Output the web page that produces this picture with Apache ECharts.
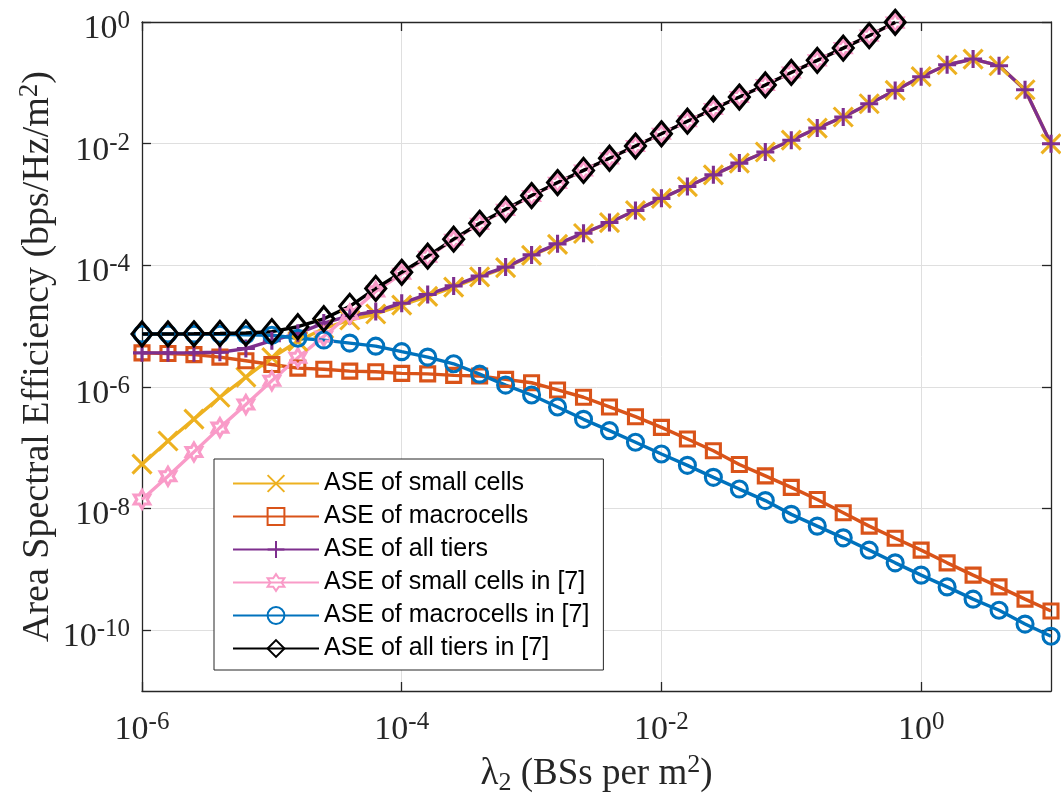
<!DOCTYPE html>
<html>
<head>
<meta charset="utf-8">
<script src="https://cdn.jsdelivr.net/npm/echarts@6/dist/echarts.min.js"></script>
<style>
html, body { margin: 0; padding: 0; background: #ffffff; }
#chart { width: 1061px; height: 812px; }
</style>
</head>
<body>
<div id="chart"></div>
<script>
// Small-cell BS density lambda_2 (BSs per m^2), five samples per decade
const lambda2 = [
  1e-6, 1.585e-6, 2.512e-6, 3.981e-6, 6.310e-6,
  1e-5, 1.585e-5, 2.512e-5, 3.981e-5, 6.310e-5,
  1e-4, 1.585e-4, 2.512e-4, 3.981e-4, 6.310e-4,
  1e-3, 1.585e-3, 2.512e-3, 3.981e-3, 6.310e-3,
  1e-2, 1.585e-2, 2.512e-2, 3.981e-2, 6.310e-2,
  1e-1, 1.585e-1, 2.512e-1, 3.981e-1, 6.310e-1,
  1, 1.585, 2.512, 3.981, 6.310, 10
];

// Area spectral efficiency (bps/Hz/m^2)
const aseSmall = [
  5.37e-8, 1.29e-7, 2.95e-7, 6.76e-7, 1.45e-6,
  3.02e-6, 5.62e-6, 9.12e-6, 1.26e-5, 1.58e-5,
  2.21e-5, 3.09e-5, 4.37e-5, 6.46e-5, 9.12e-5,
  1.45e-4, 2.21e-4, 3.33e-4, 5.01e-4, 7.94e-4,
  1.26e-3, 1.97e-3, 3.07e-3, 4.79e-3, 7.29e-3,
  1.14e-2, 1.80e-2, 2.74e-2, 4.53e-2, 7.50e-2,
  0.126, 0.198, 0.246, 0.191, 7.69e-2, 9.93e-3
];
const aseMacro = [
  3.63e-6, 3.55e-6, 3.39e-6, 3.09e-6, 2.69e-6,
  2.34e-6, 2.04e-6, 1.95e-6, 1.82e-6, 1.78e-6,
  1.67e-6, 1.64e-6, 1.55e-6, 1.51e-6, 1.33e-6,
  1.17e-6, 8.91e-7, 6.76e-7, 4.68e-7, 3.24e-7,
  2.16e-7, 1.39e-7, 8.91e-8, 5.31e-8, 3.44e-8,
  2.23e-8, 1.41e-8, 8.51e-9, 5.14e-9, 3.24e-9,
  2.07e-9, 1.28e-9, 8.04e-10, 5.15e-10, 3.24e-10, 2.07e-10
];
const aseAll = [
  3.63e-6, 3.63e-6, 3.64e-6, 3.72e-6, 4.27e-6,
  5.75e-6, 7.59e-6, 1.12e-5, 1.48e-5, 1.74e-5,
  2.38e-5, 3.31e-5, 4.58e-5, 6.68e-5, 9.33e-5,
  1.48e-4, 2.25e-4, 3.37e-4, 5.05e-4, 7.94e-4,
  1.26e-3, 1.97e-3, 3.07e-3, 4.79e-3, 7.29e-3,
  1.14e-2, 1.80e-2, 2.74e-2, 4.53e-2, 7.50e-2,
  0.126, 0.198, 0.246, 0.191, 7.69e-2, 9.93e-3
];
const aseSmallRef = [
  1.41e-8, 3.39e-8, 8.51e-8, 2.14e-7, 5.13e-7,
  1.26e-6, 3.02e-6, 6.76e-6, 1.58e-5, 3.72e-5,
  7.24e-5, 1.38e-4, 2.63e-4, 4.79e-4, 8.13e-4,
  1.38e-3, 2.26e-3, 3.61e-3, 5.73e-3, 9.12e-3,
  1.45e-2, 2.34e-2, 3.72e-2, 5.83e-2, 9.23e-2,
  0.148, 0.234, 0.372, 0.596, 0.977
];
const aseMacroRef = [
  7.40e-6, 7.40e-6, 7.38e-6, 7.34e-6, 7.20e-6,
  7.08e-6, 6.31e-6, 5.89e-6, 5.25e-6, 4.68e-6,
  3.80e-6, 3.09e-6, 2.40e-6, 1.62e-6, 1.07e-6,
  7.36e-7, 4.68e-7, 2.93e-7, 1.91e-7, 1.23e-7,
  7.87e-8, 5.13e-8, 3.26e-8, 2.09e-8, 1.35e-8,
  8.02e-9, 5.14e-9, 3.30e-9, 2.07e-9, 1.28e-9,
  8.04e-10, 5.15e-10, 3.24e-10, 2.13e-10, 1.26e-10, 7.94e-11
];
const aseAllRef = [
  7.41e-6, 7.43e-6, 7.47e-6, 7.55e-6, 7.70e-6,
  8.10e-6, 9.77e-6, 1.32e-5, 2.11e-5, 4.17e-5,
  7.67e-5, 1.41e-4, 2.69e-4, 4.90e-4, 8.32e-4,
  1.40e-3, 2.29e-3, 3.63e-3, 5.75e-3, 9.12e-3,
  1.45e-2, 2.34e-2, 3.72e-2, 5.83e-2, 9.23e-2,
  0.148, 0.234, 0.372, 0.596, 0.988
];

const seriesNames = [
  'ASE of small cells',
  'ASE of macrocells',
  'ASE of all tiers',
  'ASE of small cells in [7]',
  'ASE of macrocells in [7]',
  'ASE of all tiers in [7]'
];

// Labelled decades on each axis
const xTicks = [1e-6, 1e-4, 1e-2, 1];
const yTicks = [1e-10, 1e-8, 1e-6, 1e-4, 1e-2, 1];

const SERIF = "'Liberation Serif', 'Times New Roman', serif";
const SANS = "'Liberation Sans', Arial, Helvetica, sans-serif";
const AXIS_COLOR = '#262626';
const GRID_COLOR = '#dfdfdf';

const HEXAGRAM = 'path://M50,0L35.57,25L6.7,25L21.13,50L6.7,75L35.57,75L50,100L64.43,75L93.3,75L78.87,50L93.3,25L64.43,25Z';
const CROSS = 'path://M0,0L10,10M10,0L0,10';
const PLUS = 'path://M5,0L5,10M0,5L10,5';

function pairs(ys) {
  return ys.map((y, i) => [lambda2[i], y]);
}

function powerLabel(v) {
  const e = Math.round(Math.log10(v));
  return '{b|10}{s|' + e + '}';
}

const tickRich = {
  b: { fontFamily: SERIF, fontSize: 34, lineHeight: 40, color: AXIS_COLOR },
  s: { fontFamily: SERIF, fontSize: 25, lineHeight: 20, verticalAlign: 'top', color: AXIS_COLOR }
};

function lineSeries(name, ys, color, symbol, size) {
  return {
    name: name,
    type: 'line',
    data: pairs(ys),
    symbol: symbol,
    symbolSize: size,
    symbolKeepAspect: true,
    showSymbol: true,
    clip: true,
    lineStyle: { color: color, width: 3.4 },
    itemStyle: { color: 'rgba(0,0,0,0)', borderColor: color, borderWidth: 3.1 },
    emphasis: { disabled: true }
  };
}

const chart = echarts.init(document.getElementById('chart'), null, { renderer: 'canvas' });

chart.setOption({
  animation: false,
  backgroundColor: '#ffffff',
  grid: { left: 142, top: 22, right: 10, bottom: 121, containLabel: false },
  legend: {
    orient: 'vertical',
    left: 214,
    top: 459,
    padding: [12, 14, 9, 18],
    itemWidth: 86,
    itemHeight: 21,
    itemGap: 8,
    borderColor: AXIS_COLOR,
    borderWidth: 1,
    backgroundColor: '#ffffff',
    selectedMode: false,
    data: seriesNames,
    textStyle: { fontFamily: SANS, fontSize: 25, lineHeight: 25, color: '#000000' }
  },
  xAxis: [
    {
      type: 'log',
      logBase: 10,
      min: 1e-6,
      max: 10,
      position: 'bottom',
      name: 'λ{sub|2} (BSs per m{sup|2})',
      nameLocation: 'middle',
      nameGap: 58,
      nameTextStyle: {
        fontFamily: SERIF, fontSize: 37, lineHeight: 44, color: AXIS_COLOR,
        rich: {
          sub: { fontFamily: SERIF, fontSize: 26, lineHeight: 24, verticalAlign: 'bottom', color: AXIS_COLOR },
          sup: { fontFamily: SERIF, fontSize: 26, lineHeight: 22, verticalAlign: 'top', color: AXIS_COLOR }
        }
      },
      axisLine: { show: true, onZero: false, lineStyle: { color: AXIS_COLOR, width: 1.3 } },
      axisTick: { show: true, inside: true, length: 9, customValues: xTicks, lineStyle: { color: AXIS_COLOR, width: 1.3 } },
      axisLabel: { show: true, customValues: xTicks, margin: 19, formatter: powerLabel, rich: tickRich },
      splitLine: { show: true, lineStyle: { color: GRID_COLOR, width: 1 } },
      minorTick: { show: false },
      minorSplitLine: { show: false }
    },
    {
      type: 'log',
      logBase: 10,
      min: 1e-6,
      max: 10,
      position: 'top',
      axisLine: { show: true, onZero: false, lineStyle: { color: AXIS_COLOR, width: 1.3 } },
      axisTick: { show: true, inside: true, length: 9, customValues: xTicks, lineStyle: { color: AXIS_COLOR, width: 1.3 } },
      axisLabel: { show: false },
      splitLine: { show: false }
    }
  ],
  yAxis: [
    {
      type: 'log',
      logBase: 10,
      min: 1e-11,
      max: 1,
      position: 'left',
      name: 'Area Spectral Efficiency (bps/Hz/m{sup|2})',
      nameLocation: 'middle',
      nameGap: 82,
      nameMoveOverlap: false,
      nameTextStyle: {
        fontFamily: SERIF, fontSize: 38, lineHeight: 44, color: AXIS_COLOR,
        rich: {
          sup: { fontFamily: SERIF, fontSize: 27, lineHeight: 22, verticalAlign: 'top', color: AXIS_COLOR }
        }
      },
      axisLine: { show: true, onZero: false, lineStyle: { color: AXIS_COLOR, width: 1.3 } },
      axisTick: { show: true, inside: true, length: 9, customValues: yTicks, lineStyle: { color: AXIS_COLOR, width: 1.3 } },
      axisLabel: { show: true, customValues: yTicks, margin: 12, padding: [14, 0, 0, 0], formatter: powerLabel, rich: tickRich },
      splitLine: { show: true, lineStyle: { color: GRID_COLOR, width: 1 } },
      minorTick: { show: false },
      minorSplitLine: { show: false }
    },
    {
      type: 'log',
      logBase: 10,
      min: 1e-11,
      max: 1,
      position: 'right',
      axisLine: { show: true, onZero: false, lineStyle: { color: AXIS_COLOR, width: 1.3 } },
      axisTick: { show: true, inside: true, length: 9, customValues: yTicks, lineStyle: { color: AXIS_COLOR, width: 1.3 } },
      axisLabel: { show: false },
      splitLine: { show: false }
    }
  ],
  series: [
    lineSeries(seriesNames[0], aseSmall, '#EDB120', CROSS, 19),
    lineSeries(seriesNames[1], aseMacro, '#D95319', 'rect', 14),
    lineSeries(seriesNames[2], aseAll, '#7E2F8E', PLUS, 18),
    lineSeries(seriesNames[3], aseSmallRef, '#F99BC8', HEXAGRAM, 18),
    lineSeries(seriesNames[4], aseMacroRef, '#0072BD', 'circle', 16),
    lineSeries(seriesNames[5], aseAllRef, '#000000', 'diamond', [20, 24])
  ]
});
</script>
</body>
</html>
